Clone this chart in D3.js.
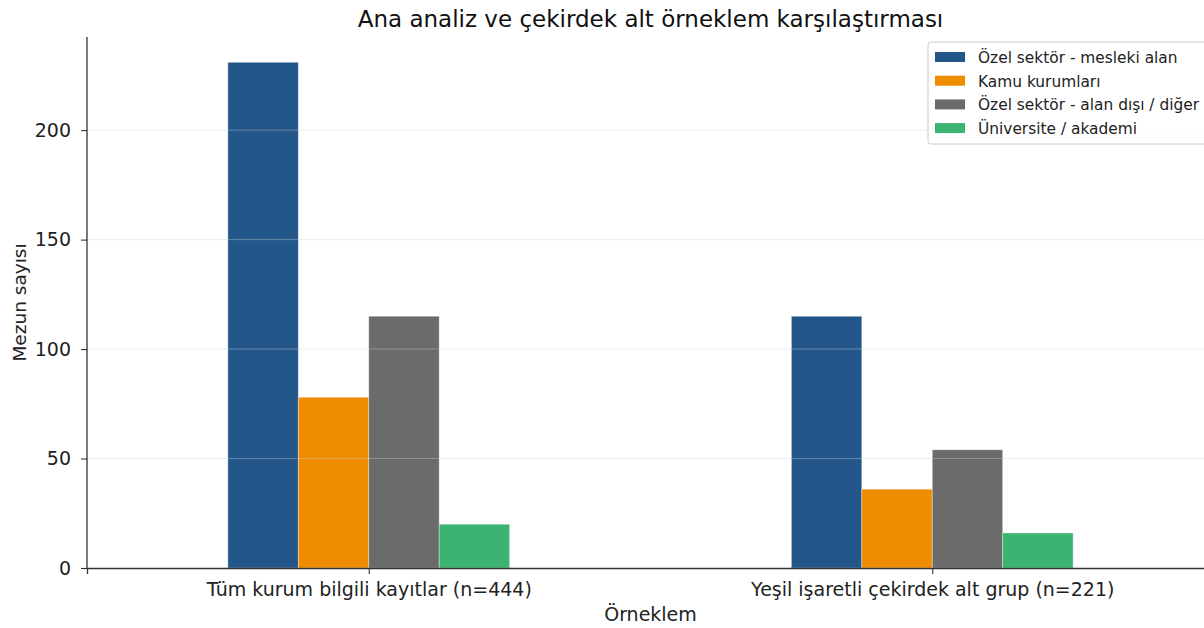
<!DOCTYPE html>
<html><head><meta charset="utf-8">
<script src="https://cdn.jsdelivr.net/npm/d3@7"></script>
<style>body{margin:0;background:#fff;} text{font-family:"DejaVu Sans",sans-serif;}</style>
</head><body><svg id="c" width="1204" height="628"></svg>
<script>
const groups = ["Tüm kurum bilgili kayıtlar (n=444)", "Yeşil işaretli çekirdek alt grup (n=221)"];
const seriesNames = ["Özel sektör - mesleki alan", "Kamu kurumları", "Özel sektör - alan dışı / diğer", "Üniversite / akademi"];
const ozelMesleki = [231, 115];
const kamu = [78, 36];
const ozelDiger = [115, 54];
const universite = [20, 16];
const colors = ["#23578a", "#f08c00", "#6b6b6b", "#3cb371"];
const yTicks = [0, 50, 100, 150, 200];

const seriesVals = [ozelMesleki, kamu, ozelDiger, universite];
const svg = d3.select("#c");
const mLeft = 87, mRight = 1214, mTop = 37, mBottom = 568;

const x = d3.scaleLinear().domain([-0.5, 1.5]).range([mLeft, mRight]);
const y = d3.scaleLinear().domain([0, 242.55]).range([mBottom, mTop]);
const bw = 0.125;

// bars
seriesVals.forEach((vals, s) => {
  svg.append("g").selectAll("rect").data(vals).join("rect")
    .attr("x", (d, i) => x(i - 0.25 + s * bw))
    .attr("width", x(bw) - x(0))
    .attr("y", d => y(d))
    .attr("height", d => y(0) - y(d))
    .attr("fill", colors[s])
    .attr("stroke", "#ffffff").attr("stroke-opacity", 0.45).attr("stroke-width", 0.8);
});

// grid (on top, faint)
svg.append("g").selectAll("line").data(yTicks.filter(t => t > 0)).join("line")
  .attr("x1", mLeft).attr("x2", mRight)
  .attr("y1", d => y(d)).attr("y2", d => y(d))
  .attr("stroke", "#d0d0d0").attr("stroke-opacity", 0.4).attr("stroke-width", 1);

// y axis
const ya = svg.append("g").attr("transform", `translate(${mLeft},0)`)
  .call(d3.axisLeft(y).tickValues(yTicks).tickSize(6).tickPadding(10));
ya.select(".domain").attr("d", `M0,${mTop}V${mBottom}`);
// x axis
const xa = svg.append("g").attr("transform", `translate(0,${mBottom})`)
  .call(d3.axisBottom(x).tickValues([0, 1]).tickFormat(i => groups[i]).tickSize(6).tickPadding(9));
[ya, xa].forEach(a => {
  a.select(".domain").attr("stroke", "#333").attr("stroke-width", 1.3);
  a.selectAll(".tick line").attr("stroke", "#333").attr("stroke-width", 1.1);
  a.selectAll("text").attr("font-size", 19).attr("fill", "#222").attr("font-family", "DejaVu Sans");
});

// title & labels
svg.append("text").attr("x", (mLeft + mRight) / 2).attr("y", 27).attr("text-anchor", "middle")
  .attr("font-size", 23).attr("fill", "#111").text("Ana analiz ve çekirdek alt örneklem karşılaştırması");
svg.append("text").attr("x", (mLeft + mRight) / 2).attr("y", 621).attr("text-anchor", "middle")
  .attr("font-size", 19).attr("fill", "#222").text("Örneklem");
svg.append("text").attr("transform", `translate(26,${(mTop + mBottom) / 2}) rotate(-90)`).attr("text-anchor", "middle")
  .attr("font-size", 18.5).attr("fill", "#222").text("Mezun sayısı");

// legend
const lg = svg.append("g").attr("transform", "translate(928,42)");
lg.append("rect").attr("x", 0).attr("y", 0).attr("width", 290).attr("height", 102).attr("rx", 3)
  .attr("fill", "#fff").attr("fill-opacity", 0.85).attr("stroke", "#ccc");
seriesNames.forEach((n, i) => {
  const g = lg.append("g").attr("transform", `translate(0,${15 + i * 23.7})`);
  g.append("rect").attr("x", 7).attr("y", -5).attr("width", 30).attr("height", 10).attr("fill", colors[i]);
  g.append("text").attr("x", 50).attr("y", 6).attr("font-size", 15.4).attr("fill", "#222").text(n);
});
</script></body></html>
